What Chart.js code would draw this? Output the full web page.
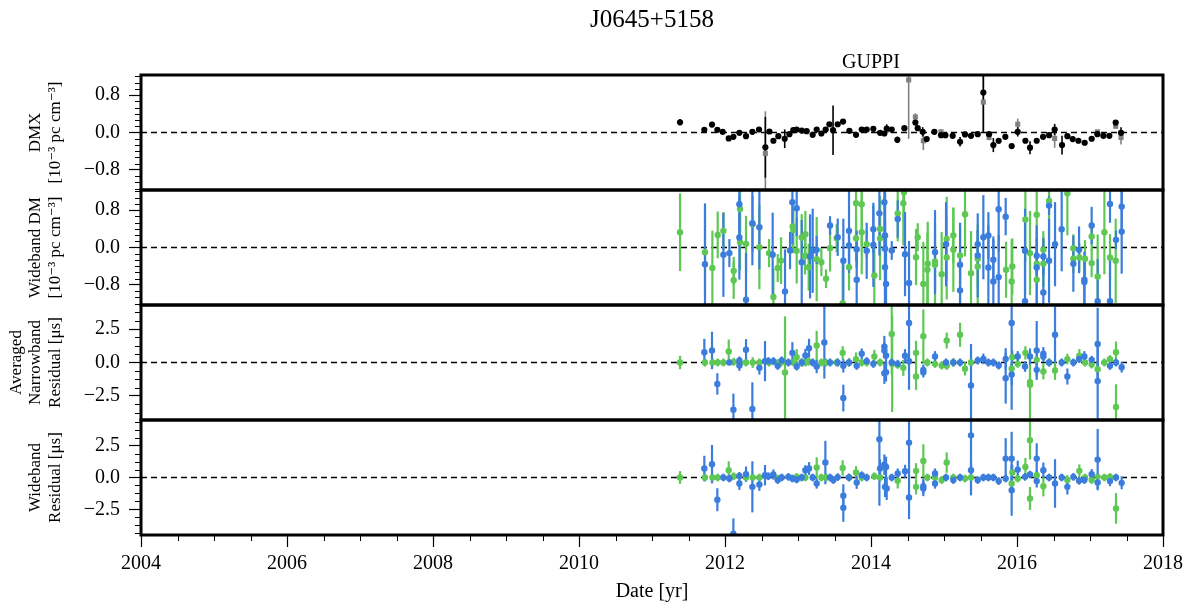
<!DOCTYPE html>
<html>
<head>
<meta charset="utf-8">
<script src="https://cdn.jsdelivr.net/npm/chart.js@4.4.1/dist/chart.umd.min.js"></script>
<style>
  html, body { margin: 0; padding: 0; background: #fff; }
  #wrap { width: 1193px; height: 608px; }
</style>
</head>
<body>
<div id="wrap"><canvas id="timing" width="1193" height="608"></canvas></div>
<script>
// axis ticks
const xTicks = [2004, 2006, 2008, 2010, 2012, 2014, 2016, 2018];
const dmTicks = [-0.8, 0.0, 0.8];
const resTicks = [-2.5, 0.0, 2.5];

// [year, value, error]
const dmxBlack = [
  [2011.384, 0.219, 0.07], [2011.717, 0.057, 0.03], [2011.822, 0.17, 0.05], [2011.895, 0.057, 0.03],
  [2011.968, 0.014, 0.03], [2012.051, -0.127, 0.04], [2012.115, -0.092, 0.03], [2012.197, -0.007, 0.03],
  [2012.288, -0.078, 0.03], [2012.375, 0.014, 0.03], [2012.466, 0.064, 0.03], [2012.553, -0.318, 0.65],
  [2012.608, 0.021, 0.03], [2012.663, -0.177, 0.04], [2012.731, -0.078, 0.03], [2012.818, -0.134, 0.2],
  [2012.882, -0.035, 0.03], [2012.936, 0.05, 0.03], [2012.982, 0.064, 0.03], [2013.051, 0.042, 0.03],
  [2013.119, 0.028, 0.03], [2013.201, -0.05, 0.03], [2013.256, 0.064, 0.05], [2013.32, -0.021, 0.03],
  [2013.379, 0.064, 0.03], [2013.43, 0.177, 0.04], [2013.48, 0.05, 0.53], [2013.544, 0.177, 0.04],
  [2013.617, 0.233, 0.04], [2013.704, 0.035, 0.03], [2013.795, -0.05, 0.03], [2013.873, 0.064, 0.03],
  [2013.941, 0.064, 0.03], [2014.032, 0.078, 0.03], [2014.124, -0.007, 0.03], [2014.183, -0.021, 0.03],
  [2014.215, 0.085, 0.09], [2014.284, 0.064, 0.03], [2014.361, -0.156, 0.07], [2014.457, 0.092, 0.04],
  [2014.608, 0.212, 0.05], [2014.64, 0.092, 0.03], [2014.708, 0.014, 0.1], [2014.763, -0.141, 0.04],
  [2014.868, 0.014, 0.03], [2014.959, -0.057, 0.03], [2015.019, -0.057, 0.03], [2015.119, -0.071, 0.03],
  [2015.22, -0.198, 0.1], [2015.288, -0.042, 0.03], [2015.37, -0.071, 0.03], [2015.462, -0.035, 0.03],
  [2015.539, 0.856, 0.85], [2015.617, -0.035, 0.03], [2015.676, -0.269, 0.15], [2015.749, -0.177, 0.06],
  [2015.84, -0.092, 0.03], [2015.927, -0.29, 0.04], [2016.01, 0.014, 0.1], [2016.115, -0.177, 0.04],
  [2016.178, -0.325, 0.14], [2016.27, -0.177, 0.03], [2016.357, -0.092, 0.03], [2016.439, -0.057, 0.03],
  [2016.516, 0.064, 0.12], [2016.617, -0.269, 0.2], [2016.69, -0.078, 0.03], [2016.763, -0.141, 0.03],
  [2016.841, -0.177, 0.03], [2016.927, -0.219, 0.03], [2017.023, -0.134, 0.03], [2017.101, -0.035, 0.03],
  [2017.183, -0.071, 0.03], [2017.265, -0.071, 0.03], [2017.352, 0.212, 0.05], [2017.425, -0.007, 0.12]
];
const dmxGrey = [
  [2012.553, -0.446, 0.9], [2014.215, 0.05, 0.06], [2014.516, 1.125, 1.26], [2014.608, 0.332, 0.08],
  [2014.717, -0.177, 0.2], [2014.959, 0.014, 0.05], [2015.539, 0.651, 0.6], [2015.617, -0.106, 0.06],
  [2016.01, 0.177, 0.12], [2016.516, -0.127, 0.2], [2017.101, 0.014, 0.04], [2017.352, 0.134, 0.05],
  [2017.425, -0.106, 0.15]
];

const wbDmGreen = [
  [2011.384, 0.327, 0.83], [2011.726, -0.1, 0.9], [2011.827, -0.44, 0.8], [2011.9, 0.27, 0.5],
  [2011.978, 0.356, 0.4], [2012.119, -0.5, 0.3], [2012.119, -0.7, 0.4], [2012.206, 0.825, 0.5],
  [2012.206, 0.114, 0.6], [2012.288, 0.078, 0.6], [2012.379, 0.5, 0.6], [2012.471, 0.007, 0.9],
  [2012.603, -0.12, 0.3], [2012.663, -1.06, 0.6], [2012.722, -0.44, 0.3], [2012.768, -0.28, 0.5],
  [2012.927, 0.45, 0.5], [2012.936, 0.377, 0.5], [2012.982, -0.071, 0.7], [2013.051, 0.213, 0.5],
  [2013.101, 0.284, 0.5], [2013.096, -0.178, 0.4], [2013.146, -0.42, 0.5], [2013.256, -0.249, 0.9],
  [2013.32, -0.313, 0.3], [2013.384, -0.668, 0.2], [2013.439, -0.014, 0.5], [2013.53, 0.199, 0.3],
  [2013.612, -1.19, 0.9], [2013.699, -0.42, 0.5], [2013.795, 0.946, 0.8], [2013.795, 0.199, 0.5],
  [2013.873, 0.924, 0.9], [2013.873, 0.327, 0.9], [2013.941, 0.071, 0.3], [2014.046, -0.6, 0.7],
  [2014.124, 0.199, 0.9], [2014.124, 0.398, 0.6], [2014.366, 0.73, 0.6], [2014.443, 0.946, 0.9],
  [2014.452, 1.18, 0.9], [2014.617, -0.206, 0.6], [2014.64, 0.22, 0.3], [2014.717, -0.78, 0.9],
  [2014.772, -0.476, 0.8], [2014.777, -0.348, 0.9], [2014.877, -0.37, 0.9], [2014.877, -0.3, 0.6],
  [2014.968, -0.57, 0.9], [2015.037, -0.213, 0.9], [2015.037, 0.185, 0.9], [2015.128, -0.05, 0.9],
  [2015.128, 0.256, 0.6], [2015.22, -0.17, 0.6], [2015.288, 0.71, 0.9], [2015.37, -0.55, 0.9],
  [2015.462, -0.405, 0.9], [2015.462, -0.24, 0.6], [2015.85, -0.476, 0.6], [2015.927, -0.725, 0.9],
  [2015.936, -0.405, 0.6], [2016.115, 0.6, 0.9], [2016.178, -0.12, 0.9], [2016.27, 0.7, 0.9],
  [2016.27, -0.348, 0.4], [2016.27, -0.69, 0.5], [2016.361, -0.348, 0.5], [2016.361, -0.05, 0.4],
  [2016.439, 0.995, 0.8], [2016.69, 1.16, 0.9], [2016.772, -0.014, 0.3], [2016.772, -0.242, 0.3],
  [2016.854, -0.213, 0.3], [2016.932, -0.242, 0.4], [2017.023, -0.334, 0.3], [2017.023, 0.235, 0.3],
  [2017.105, -0.62, 0.9], [2017.197, 0.327, 0.9], [2017.274, -0.213, 0.5], [2017.352, -0.284, 0.9]
];
const wbDmBlue = [
  [2011.726, -0.356, 1.3], [2011.978, -0.156, 0.9], [2012.06, -0.12, 0.3], [2012.197, 0.924, 0.9],
  [2012.197, 0.213, 0.9], [2012.288, -1.116, 1.0], [2012.375, 0.52, 0.9], [2012.471, 0.434, 0.9],
  [2012.653, -0.156, 0.9], [2012.822, -0.94, 0.9], [2012.891, -0.064, 0.4], [2012.923, 0.967, 0.9],
  [2012.982, 0.84, 0.6], [2013.051, -0.313, 0.9], [2013.165, -0.19, 0.9], [2013.201, -0.071, 0.9],
  [2013.256, -0.05, 0.3], [2013.439, 0.47, 0.2], [2013.544, 0.22, 0.4], [2013.621, -0.284, 0.9],
  [2013.699, 0.356, 0.9], [2013.699, 0.043, 0.4], [2013.804, -0.69, 0.9], [2013.804, -0.036, 0.4],
  [2013.941, -0.071, 0.6], [2014.032, 0.39, 0.5], [2014.032, 0.057, 0.9], [2014.115, 0.73, 0.9],
  [2014.183, 0.967, 1.0], [2014.192, 0.256, 1.0], [2014.192, -0.028, 1.2], [2014.192, -0.42, 1.0],
  [2014.206, -0.78, 1.0], [2014.284, -0.064, 0.2], [2014.366, 0.61, 0.4], [2014.466, -0.142, 0.9],
  [2014.521, -0.76, 0.9], [2014.877, -0.1, 0.9], [2015.028, 0.071, 0.9], [2015.22, -0.37, 0.9],
  [2015.22, -0.917, 0.5], [2015.462, 0.071, 0.3], [2015.462, -0.17, 0.9], [2015.539, 0.22, 0.9],
  [2015.608, 0.256, 0.5], [2015.608, -0.427, 0.9], [2015.676, -0.263, 0.5], [2015.676, -0.725, 0.9],
  [2015.749, 0.818, 0.9], [2015.749, -0.633, 0.9], [2015.845, 0.66, 0.4], [2016.11, -0.071, 0.9],
  [2016.11, -1.15, 0.9], [2016.27, -0.178, 0.4], [2016.27, -0.427, 0.9], [2016.361, -0.19, 0.4],
  [2016.361, -0.96, 0.9], [2016.439, 0.896, 0.2], [2016.439, -0.284, 0.9], [2016.521, 0.071, 0.9],
  [2016.612, 0.39, 0.9], [2016.772, -0.348, 0.6], [2016.85, -0.05, 0.5], [2016.923, -0.69, 0.6],
  [2016.923, -0.74, 0.5], [2017.023, 0.47, 0.4], [2017.105, -1.15, 0.9], [2017.274, 0.93, 0.4],
  [2017.274, -1.15, 0.9], [2017.356, 0.164, 0.2], [2017.434, 0.875, 0.6], [2017.434, 0.34, 0.9]
];

const nbResGreen = [
  [2011.384, 0, 0.5], [2011.726, 0, 0.3], [2011.827, 0, 0.3], [2011.9, 0, 0.3], [2011.978, 0, 0.3],
  [2012.051, 0.82, 0.9], [2012.119, 0.05, 0.3], [2012.206, -0.05, 0.3], [2012.288, 0, 0.3],
  [2012.379, 0, 0.4], [2012.471, 0, 0.3], [2012.603, 0, 0.3], [2012.722, -0.05, 0.3], [2012.768, 0, 0.3],
  [2012.822, -0.75, 4.2], [2012.927, 0.03, 0.3], [2012.982, 0.4, 0.6], [2013.051, 0, 0.3],
  [2013.101, 0, 0.3], [2013.146, 0.07, 0.3], [2013.256, 1.27, 1.1], [2013.32, 0, 0.3], [2013.384, 0, 0.3],
  [2013.53, 0, 0.3], [2013.612, 0.72, 0.5], [2013.699, 0, 0.3], [2013.795, 0.25, 0.5], [2013.873, 0, 0.3],
  [2013.941, 0, 0.3], [2014.046, 0.45, 0.5], [2014.124, 0, 0.3], [2014.284, 2.14, 3.0],
  [2014.29, -0.1, 3.6], [2014.366, -0.17, 0.3], [2014.443, -0.4, 0.6], [2014.617, 0.72, 0.9],
  [2014.617, -1.05, 1.0], [2014.717, 1.97, 2.0], [2014.772, 0, 0.3], [2014.877, -0.1, 0.3],
  [2014.968, -0.22, 0.3], [2015.037, 1.64, 0.6], [2015.037, -0.25, 0.3], [2015.128, 0, 0.3],
  [2015.22, 2.07, 0.9], [2015.288, -0.47, 0.5], [2015.37, 0, 0.3], [2015.927, -0.47, 0.5],
  [2015.936, 0.4, 0.5], [2016.01, -0.1, 0.3], [2016.115, 0.72, 0.5], [2016.178, -1.67, 2.5],
  [2016.178, -1.47, 0.5], [2016.27, 0.2, 0.4], [2016.361, -0.67, 0.6], [2016.439, 0, 0.3],
  [2016.521, -0.6, 0.7], [2016.69, 0.25, 0.4], [2016.854, 0.5, 0.5], [2016.932, 0, 0.3],
  [2017.023, -0.15, 0.3], [2017.105, -0.5, 0.4], [2017.197, 0, 0.3], [2017.274, 0.25, 0.3],
  [2017.356, 0.77, 0.8], [2017.356, -3.33, 1.7]
];
const nbResBlue = [
  [2011.717, 0.77, 1.0], [2011.822, 0.9, 1.4], [2011.895, -1.6, 0.8], [2012.06, 0, 0.2],
  [2012.115, -3.53, 1.2], [2012.197, -0.22, 0.4], [2012.197, 0.15, 0.3], [2012.288, 0.95, 0.8],
  [2012.375, -3.48, 2.0], [2012.471, -0.4, 0.5], [2012.548, 0.1, 1.5], [2012.594, 0.1, 0.3],
  [2012.663, 0.1, 0.3], [2012.722, -0.25, 0.3], [2012.777, 0.15, 0.3], [2012.868, 0, 0.3],
  [2012.923, 0.72, 0.8], [2012.982, -0.3, 0.3], [2013.051, 0, 0.3], [2013.101, 0.52, 0.5],
  [2013.151, 1.07, 0.7], [2013.201, 0, 0.3], [2013.256, -0.3, 0.5], [2013.361, 1.5, 2.7],
  [2013.439, 0, 0.3], [2013.544, 0, 0.3], [2013.621, -2.66, 1.0], [2013.621, -0.25, 0.5],
  [2013.699, 0, 0.3], [2013.804, -0.25, 0.3], [2013.873, 0.65, 0.4], [2013.941, 0.1, 0.3],
  [2014.032, -0.1, 0.3], [2014.183, 1.19, 0.8], [2014.183, 0.9, 0.6], [2014.183, -0.8, 0.8],
  [2014.206, 0.52, 0.8], [2014.206, -0.72, 0.7], [2014.284, 0, 0.3], [2014.366, -0.1, 0.3],
  [2014.466, 0.5, 0.5], [2014.521, 2.96, 5.0], [2014.521, 0.1, 0.3], [2014.717, -0.72, 0.4],
  [2014.717, -0.55, 0.4], [2014.877, 0.45, 0.4], [2015.028, 0, 0.3], [2015.128, 0, 0.3],
  [2015.22, 0, 0.3], [2015.37, -1.72, 3.1], [2015.462, 0.15, 0.3], [2015.539, 0.27, 0.4],
  [2015.608, 0, 0.3], [2015.676, 0, 0.3], [2015.749, -0.22, 0.3], [2015.845, 0.27, 0.8],
  [2015.845, -1.17, 1.9], [2015.927, 2.96, 6.5], [2015.927, -0.9, 0.8], [2016.01, 0.45, 0.4],
  [2016.11, -0.3, 0.4], [2016.178, 0.45, 0.6], [2016.27, 0.9, 2.2], [2016.27, -0.55, 0.5],
  [2016.361, 0.65, 0.5], [2016.361, 0.45, 0.4], [2016.439, 0, 0.3], [2016.521, 2.07, 2.1],
  [2016.612, 0, 0.3], [2016.69, -1.05, 0.6], [2016.772, 0, 0.3], [2016.85, 0.27, 0.3],
  [2016.923, 0.45, 0.4], [2017.023, 0.2, 0.3], [2017.105, 1.39, 2.7], [2017.105, -1.39, 2.8],
  [2017.274, -0.25, 0.3], [2017.356, 0, 0.3], [2017.434, -0.35, 0.4]
];

const wbResGreen = [
  [2011.384, 0, 0.5], [2011.726, 0, 0.3], [2011.827, 0, 0.3], [2011.9, 0, 0.3], [2012.051, 0.57, 0.7],
  [2012.119, 0.1, 0.3], [2012.288, 0, 0.3], [2012.379, 0, 0.3], [2012.471, 0, 0.3], [2012.722, -0.08, 0.3],
  [2012.982, 0.05, 0.3], [2013.101, 0, 0.3], [2013.256, 0.78, 0.8], [2013.32, 0, 0.3], [2013.384, 0, 0.3],
  [2013.612, 0.75, 0.6], [2013.699, 0, 0.3], [2013.795, 0.39, 0.5], [2013.873, 0, 0.3], [2014.046, 0.1, 0.3],
  [2014.124, 0, 0.3], [2014.366, -0.26, 0.6], [2014.617, 0.52, 0.6], [2014.617, -0.73, 0.6],
  [2014.717, 1.3, 1.3], [2014.772, 0, 0.3], [2014.877, 0, 0.3], [2014.968, -0.2, 0.3],
  [2015.037, 1.17, 0.8], [2015.128, 0, 0.3], [2015.288, -0.08, 0.3], [2015.37, 0, 0.3],
  [2015.927, -0.47, 0.6], [2015.936, 0.39, 0.6], [2016.01, -0.08, 0.3], [2016.115, 0.83, 0.7],
  [2016.178, 2.91, 1.5], [2016.178, -1.64, 0.9], [2016.27, 0.18, 0.4], [2016.361, -0.68, 0.8],
  [2016.69, -0.2, 0.4], [2016.854, 0.52, 0.5], [2016.932, 0, 0.3], [2017.023, -0.2, 0.3],
  [2017.105, 0.05, 0.3], [2017.197, 0, 0.3], [2017.274, 0.05, 0.3], [2017.356, -2.42, 1.2]
];
const wbResBlue = [
  [2011.717, 0.7, 1.0], [2011.822, 1.04, 1.5], [2011.895, -1.74, 0.9], [2011.978, 0, 0.3],
  [2012.06, -0.08, 0.3], [2012.115, -4.4, 1.2], [2012.197, 0.13, 0.3], [2012.197, -0.47, 0.5],
  [2012.288, 0.26, 0.6], [2012.375, -0.73, 2.0], [2012.471, -0.55, 0.5], [2012.548, 0.18, 0.8],
  [2012.594, 0.1, 0.3], [2012.663, 0.23, 0.4], [2012.722, -0.2, 0.3], [2012.777, 0, 0.3],
  [2012.868, 0.05, 0.3], [2012.923, -0.08, 0.3], [2012.982, -0.15, 0.3], [2013.051, 0, 0.3],
  [2013.101, 0.57, 0.4], [2013.151, 0.7, 0.5], [2013.201, 0, 0.3], [2013.256, -0.47, 0.4],
  [2013.375, 1.17, 1.7], [2013.439, 0, 0.3], [2013.484, -0.2, 0.3], [2013.544, 0.03, 0.3],
  [2013.621, -1.43, 0.9], [2013.621, -2.37, 1.1], [2013.699, 0, 0.3], [2013.804, -0.39, 0.5],
  [2013.873, 0.18, 0.3], [2013.941, 0, 0.3], [2014.115, 2.99, 5.2], [2014.124, 0.7, 0.7],
  [2014.183, 1.01, 0.8], [2014.206, 0.83, 0.8], [2014.192, -0.73, 0.8], [2014.215, -0.86, 0.9],
  [2014.284, 0, 0.3], [2014.366, 0.31, 0.4], [2014.466, 0.49, 0.5], [2014.521, 2.73, 2.8],
  [2014.521, -1.56, 1.7], [2014.717, -0.68, 0.6], [2014.717, -0.86, 0.6], [2014.877, -0.47, 0.4],
  [2014.877, 0.31, 0.4], [2015.028, 0, 0.3], [2015.128, -0.2, 0.3], [2015.22, 0, 0.3],
  [2015.37, 3.3, 4.7], [2015.37, 0.57, 0.6], [2015.462, -0.2, 0.3], [2015.539, 0, 0.3],
  [2015.608, 0, 0.3], [2015.676, 0, 0.3], [2015.749, -0.28, 0.3], [2015.845, 1.48, 1.6],
  [2015.845, -0.08, 0.3], [2015.927, 1.48, 2.1], [2015.927, -0.99, 2.0], [2016.01, 0.62, 0.7],
  [2016.11, 0.05, 0.3], [2016.178, 0.23, 0.3], [2016.27, 1.48, 1.2], [2016.27, -0.28, 0.5],
  [2016.361, 0.57, 0.6], [2016.439, 0, 0.3], [2016.521, -0.47, 1.9], [2016.612, 0, 0.3],
  [2016.69, -0.73, 0.6], [2016.772, 0.05, 0.3], [2016.85, -0.26, 0.3], [2016.923, -0.2, 0.3],
  [2017.023, 0.26, 0.4], [2017.105, 1.4, 2.4], [2017.105, -0.39, 0.5], [2017.274, -0.28, 0.4],
  [2017.356, 0, 0.3], [2017.434, -0.42, 0.5]
];

const FONT = "'Liberation Serif', 'DejaVu Serif', serif";
const BLUE = '#3b7ddc';
const GREEN = '#5fc855';
const PANELS = ['y1', 'y2', 'y3', 'y4'];
const PLOT_LEFT = 141;

const pts = arr => arr.map(([x, y, e]) => ({x, y, e}));
const fmt = v => (Math.abs(v) < 1e-9 ? 0 : v).toFixed(1).replace('-', '\u2212');

function series(label, arr, yAxisID, color, opts = {}) {
  return Object.assign({
    label, data: pts(arr), yAxisID,
    backgroundColor: color, borderColor: color,
    pointRadius: 3.2, pointBorderWidth: 0, pointStyle: 'circle',
    showLine: false,
    errColor: color, errWidth: 2.2
  }, opts);
}

function yScale(min, max, majors, minorStep, label, titlePad, weight) {
  return {
    type: 'linear', position: 'left', stack: 'panels', stackWeight: 1, weight,
    min, max, minorStep,
    afterBuildTicks: s => { s.ticks = majors.map(v => ({value: v})); },
    afterFit: s => { s.width = PLOT_LEFT; },
    grid: {drawOnChartArea: false, drawTicks: true, tickLength: 12, color: '#000', tickColor: '#000', tickWidth: 1.2},
    border: {display: false},
    ticks: {color: '#000', font: {family: FONT, size: 20}, padding: 9, callback: v => fmt(v)},
    title: {display: true, text: label, color: '#000',
            font: {family: FONT, size: 17, lineHeight: 1.15}, padding: {top: titlePad, bottom: 0}}
  };
}

// zero lines, error bars, frames, minor ticks, title
const panelDecor = {
  id: 'panelDecor',
  beforeDatasetsDraw(chart) {
    const {ctx, chartArea, scales} = chart;
    const w = chartArea.right - chartArea.left;
    PANELS.forEach(id => {
      const y0 = scales[id].getPixelForValue(0);
      ctx.save();
      ctx.strokeStyle = '#000';
      ctx.lineWidth = 1.5;
      ctx.setLineDash([6, 4]);
      ctx.beginPath();
      ctx.moveTo(chartArea.left, y0);
      ctx.lineTo(chartArea.right, y0);
      ctx.stroke();
      ctx.restore();
    });
    for (let i = chart.data.datasets.length - 1; i >= 0; i--) {
      const ds = chart.data.datasets[i];
      const ys = scales[ds.yAxisID];
      ctx.save();
      ctx.beginPath();
      ctx.rect(chartArea.left, ys.top, w, ys.bottom - ys.top);
      ctx.clip();
      ctx.strokeStyle = ds.errColor;
      ctx.lineWidth = ds.errWidth;
      ds.data.forEach(p => {
        const px = scales.x.getPixelForValue(p.x);
        ctx.beginPath();
        ctx.moveTo(px, ys.getPixelForValue(p.y - p.e));
        ctx.lineTo(px, ys.getPixelForValue(p.y + p.e));
        ctx.stroke();
      });
      ctx.restore();
    }
  },
  afterDatasetsDraw(chart) {
    const {ctx, chartArea, scales} = chart;
    ctx.save();
    ctx.strokeStyle = '#000';
    ctx.lineWidth = 3;
    PANELS.forEach(id => {
      const s = scales[id];
      ctx.strokeRect(chartArea.left, s.top, chartArea.right - chartArea.left, s.bottom - s.top);
    });
    ctx.restore();
  },
  afterDraw(chart) {
    const {ctx, chartArea, scales} = chart;
    ctx.save();
    ctx.strokeStyle = '#000';
    ctx.lineWidth = 1;
    // y minor ticks
    PANELS.forEach(id => {
      const s = scales[id];
      const step = s.options.minorStep;
      const n = Math.floor(s.max / step + 1e-6);
      for (let k = -n; k <= n; k++) {
        const v = k * step;
        if (s.ticks.some(t => Math.abs(t.value - v) < 1e-6)) continue;
        const py = Math.round(s.getPixelForValue(v)) + 0.5;
        ctx.beginPath();
        ctx.moveTo(chartArea.left - 6, py);
        ctx.lineTo(chartArea.left, py);
        ctx.stroke();
      }
    });
    // x minor ticks, every half year
    for (let k = 0; k <= 28; k++) {
      if (k % 4 === 0) continue;
      const px = Math.round(scales.x.getPixelForValue(2004 + k * 0.5)) + 0.5;
      ctx.beginPath();
      ctx.moveTo(px, chartArea.bottom);
      ctx.lineTo(px, chartArea.bottom + 6);
      ctx.stroke();
    }
    ctx.fillStyle = '#000';
    ctx.textAlign = 'center';
    ctx.textBaseline = 'alphabetic';
    ctx.font = `25px ${FONT}`;
    ctx.fillText('J0645+5158', (chartArea.left + chartArea.right) / 2, 27);
    ctx.font = `20px ${FONT}`;
    ctx.fillText('GUPPI', scales.x.getPixelForValue(2014), 68);
    ctx.restore();
  }
};

new Chart(document.getElementById('timing'), {
  type: 'scatter',
  data: {
    datasets: [
      series('DMX', dmxBlack, 'y1', '#000', {errWidth: 1.6, pointRadius: 3.1}),
      series('DMX (alt)', dmxGrey, 'y1', '#808080', {pointStyle: 'rect', pointRadius: 3.6, errWidth: 1.6}),
      series('Wideband DM 1.4 GHz', wbDmBlue, 'y2', BLUE),
      series('Wideband DM 820 MHz', wbDmGreen, 'y2', GREEN),
      series('Narrowband 1.4 GHz', nbResBlue, 'y3', BLUE),
      series('Narrowband 820 MHz', nbResGreen, 'y3', GREEN),
      series('Wideband 1.4 GHz', wbResBlue, 'y4', BLUE),
      series('Wideband 820 MHz', wbResGreen, 'y4', GREEN)
    ]
  },
  options: {
    responsive: false,
    animation: false,
    events: [],
    layout: {padding: {top: 75, right: 30, bottom: 4, left: 0}},
    plugins: {legend: {display: false}, tooltip: {enabled: false}, title: {display: false}},
    scales: {
      x: {
        type: 'linear', position: 'bottom', min: 2004, max: 2018,
        afterBuildTicks: s => { s.ticks = xTicks.map(v => ({value: v})); },
        afterFit: s => { s.height = 69; },
        grid: {drawOnChartArea: false, drawTicks: true, tickLength: 12, color: '#000', tickWidth: 1.2},
        border: {display: false},
        ticks: {color: '#000', font: {family: FONT, size: 20}, padding: 5, maxRotation: 0, callback: v => String(v)},
        title: {display: true, text: 'Date [yr]', color: '#000', font: {family: FONT, size: 20, lineHeight: 1.2}, padding: 0}
      },
      y1: yScale(-1.23, 1.23, dmTicks, 0.8 / 6, ['DMX', '[10\u207B\u00B3 pc cm\u207B\u00B3]'], 26, 4),
      y2: yScale(-1.23, 1.23, dmTicks, 0.8 / 6, ['Wideband DM', '[10\u207B\u00B3 pc cm\u207B\u00B3]'], 26, 3),
      y3: yScale(-4.3, 4.3, resTicks, 0.625, ['Averaged', 'Narrowband', 'Residual [\u03BCs]'], 6.5, 2),
      y4: yScale(-4.5, 4.5, resTicks, 0.625, ['Wideband', 'Residual [\u03BCs]'], 26, 1)
    }
  },
  plugins: [panelDecor]
});
</script>
</body>
</html>
